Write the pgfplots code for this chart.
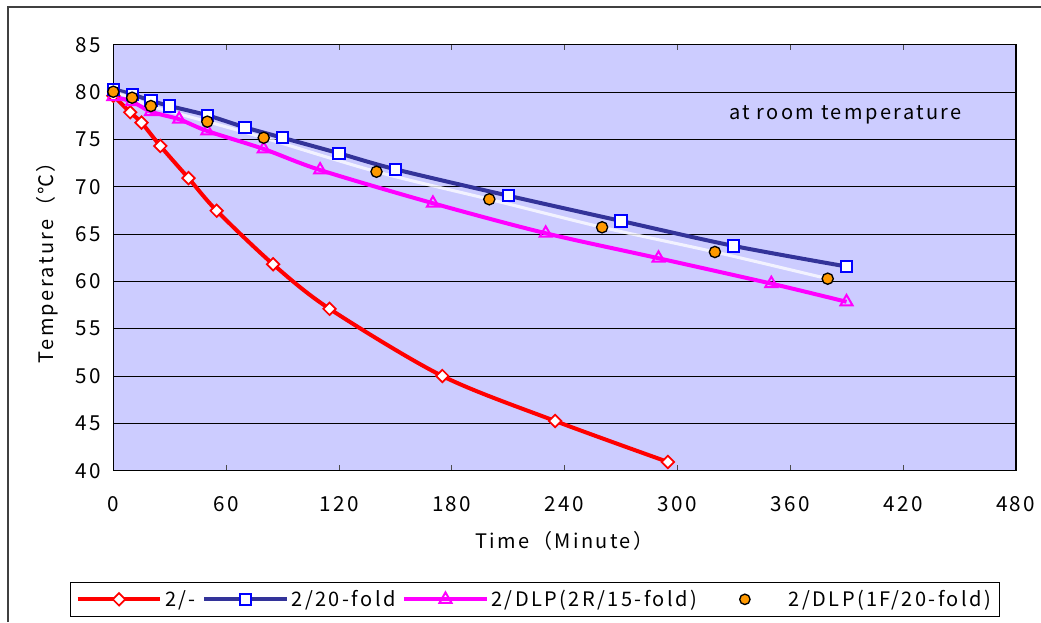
\documentclass[border=0pt]{standalone}
\usepackage{fontspec}
\setmainfont{Noto Sans CJK JP}[LetterSpace=12]
\usepackage{pgfplots}
\pgfplotsset{compat=1.18}
\definecolor{bg}{RGB}{204,204,255}
\definecolor{navy}{RGB}{51,51,153}
\definecolor{org}{RGB}{255,153,0}
\definecolor{pink}{RGB}{255,0,255}
\begin{document}
\begin{tikzpicture}[font=\fontsize{15}{18}\selectfont]
\useasboundingbox (0,0) rectangle (780.75pt,-466.5pt);
\draw[line width=0.9pt, black!75] (6pt,-466.5pt) -- (6pt,-5.25pt) -- (780.75pt,-5.25pt);
\begin{axis}[
 at={(84.98pt,-353pt)}, anchor=south west,
 scale only axis, width=676.8pt, height=319.5pt,
 xmin=0,xmax=480,ymin=40,ymax=85,
 xtick={0,60,...,480}, ytick={40,45,...,85},
 axis background/.style={fill=bg},
 ymajorgrids, grid style={black, line width=0.6pt},
 axis line style={black, line width=1.2pt},
 tick align=inside, major tick length=4pt,
 xtick style={black!70,line width=0.6pt},
 ytick style={draw=none},
 /pgf/number format/assume math mode=true,
 ticklabel style={font=\fontsize{15.5}{18}\selectfont},
 xticklabel style={yshift=-16pt},
 yticklabel style={xshift=-6pt},
 xlabel={Time（Minute）}, ylabel={Temperature（℃）},
 xlabel style={at={(axis description cs:0.5,-0.165)},anchor=center},
 ylabel style={at={(axis description cs:-0.0735,0.5)},anchor=center},
 legend columns=4,
 legend style={at={(axis description cs:0.467,-0.302)}, anchor=center, draw=black, line width=0.8pt, fill=white,
   inner ysep=4pt, inner xsep=4pt,
   /tikz/every even column/.append style={column sep=3pt}},
 legend image code/.code={\path[draw=none,fill=none] (0pt,0pt) -- (62pt,0pt); \draw[mark repeat=2,mark phase=2,#1] plot coordinates {(0pt,0pt) (31pt,0pt) (62pt,0pt)};},
]
\addplot[red, line width=3pt, smooth, mark=square*, mark size=3.3pt, mark options={fill=white, draw=red, line width=1.3pt, rotate=45}]
 coordinates {(0,79.6)(9,77.86)(15,76.76)(25,74.3)(40,70.9)(55,67.46)(85,61.8)(115,57.1)(175,50.0)(235,45.25)(295,40.92)};
\addlegendentry{2/-}
\addplot[navy, line width=3pt, smooth, mark=square*, mark size=4.2pt, mark options={fill=white, draw=blue, line width=1.5pt}]
 coordinates {(0,80.29)(10,79.76)(20,79.08)(30,78.52)(50,77.54)(70,76.27)(90,75.17)(120,73.53)(150,71.84)(210,69.05)(270,66.38)(330,63.74)(390,61.57)};
\addlegendentry{2/20-fold}
\addplot[pink, line width=3pt, smooth, mark=triangle, mark size=5.2pt, mark options={draw=pink, line width=1.5pt}]
 coordinates {(0,79.5)(10,78.98)(20,77.92)(35,77.12)(50,75.88)(80,73.98)(110,71.76)(170,68.25)(230,65.08)(290,62.44)(350,59.76)(390,57.84)};
\addlegendentry{2/DLP(2R/15-fold)}
\addplot[white, opacity=0.75, line width=2.3pt, smooth, forget plot]
 coordinates {(0,80.03)(10,79.4)(20,78.52)(50,76.87)(80,75.17)(140,71.58)(200,68.67)(260,65.71)(320,63.1)(380,60.28)};
\addplot[only marks, mark=*, mark size=4.2pt, mark options={fill=org, draw=black, line width=1pt},
 legend image code/.code={\path[draw=none,fill=none] (0pt,0pt) -- (62pt,0pt); \node[circle, fill=org, draw=black, line width=1pt, inner sep=0pt, minimum size=7.8pt] at (31pt,0pt) {};}]
 coordinates {(0,80.03)(10,79.4)(20,78.52)(50,76.87)(80,75.17)(140,71.58)(200,68.67)(260,65.71)(320,63.1)(380,60.28)};
\addlegendentry{2/DLP(1F/20-fold)}
\node[anchor=west] at (axis cs:325,77.6) {at room temperature};
\end{axis}
\end{tikzpicture}
\end{document}
